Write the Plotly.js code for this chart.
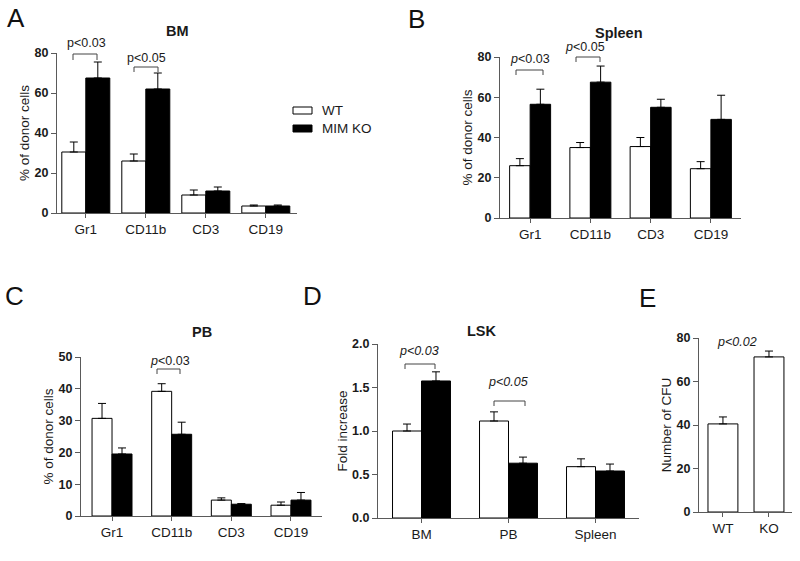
<!DOCTYPE html>
<html>
<head>
<meta charset="utf-8">
<script src="https://cdn.plot.ly/plotly-3.0.1.min.js"></script>
<style>html,body{margin:0;padding:0;background:#fff;}#chart{width:800px;height:561px;}</style>
</head>
<body>
<div id="chart"></div>
<script>
// ---- data ----
const seriesNames = ['WT', 'MIM KO'];

const bmCats = ['Gr1', 'CD11b', 'CD3', 'CD19'];
const bmWT = [30.5, 26, 9, 3.5];
const bmWTerr = [5, 3.5, 2.5, 0.5];
const bmKO = [67.5, 62, 11, 3.5];
const bmKOerr = [8, 8, 2, 0.5];

const spCats = ['Gr1', 'CD11b', 'CD3', 'CD19'];
const spWT = [26, 35, 35.5, 24.5];
const spWTerr = [3.5, 2.5, 4.5, 3.5];
const spKO = [56.5, 67.5, 55, 49];
const spKOerr = [7.5, 8, 4, 12];

const pbCats = ['Gr1', 'CD11b', 'CD3', 'CD19'];
const pbWT = [30.7, 39.2, 5.0, 3.4];
const pbWTerr = [4.7, 2.4, 0.7, 1.0];
const pbKO = [19.5, 25.7, 3.7, 5.0];
const pbKOerr = [1.9, 3.8, 0.2, 2.4];

const lskCats = ['BM', 'PB', 'Spleen'];
const lskWT = [1.0, 1.115, 0.59];
const lskWTerr = [0.08, 0.105, 0.09];
const lskKO = [1.575, 0.63, 0.54];
const lskKOerr = [0.105, 0.07, 0.08];

const cfuCats = ['WT', 'KO'];
const cfuVals = [40.5, 71.3];
const cfuErr = [3.2, 2.7];

// y tick values / labels
const ticks80 = [0, 20, 40, 60, 80];
const ticks80Text = ['0', '20', '40', '60', '80'];
const ticks50 = [0, 10, 20, 30, 40, 50];
const ticks50Text = ['0', '10', '20', '30', '40', '50'];
const ticks2 = [0, 0.5, 1, 1.5, 2];
const ticks2Text = ['0.0', '0.5', '1.0', '1.5', '2.0'];

const panelTitles = ['BM', 'Spleen', 'PB', 'LSK'];
const panelLetters = ['A', 'B', 'C', 'D', 'E'];
const yTitles = ['% of donor cells', '% of donor cells', '% of donor cells', 'Fold increase', 'Number of CFU'];

// ---- helpers ----
const W = 800, H = 561;
const FONT = 'Liberation Sans, Arial, sans-serif';
const TXT = '#1a1a1a';
const AX = '#5a5a5a';
const px = x => x / W;
const py = y => 1 - y / H;

function zeros(n) { return new Array(n).fill(0); }

function barPair(cats, wt, wtErr, ko, koErr, xa, ya, w) {
  const eb = (arr) => ({type: 'data', symmetric: false, array: arr, arrayminus: zeros(arr.length),
                        color: '#000', thickness: 1, width: 4});
  return [
    {type: 'bar', name: seriesNames[0], x: cats, y: wt, xaxis: xa, yaxis: ya,
     width: w, offset: -w, marker: {color: '#ffffff', line: {color: '#000', width: 1}},
     error_y: eb(wtErr), showlegend: false, hoverinfo: 'x+y'},
    {type: 'bar', name: seriesNames[1], x: cats, y: ko, xaxis: xa, yaxis: ya,
     width: w, offset: 0, marker: {color: '#000000', line: {color: '#000', width: 1}},
     error_y: eb(koErr), showlegend: false, hoverinfo: 'x+y'}
  ];
}

const data = [
  ...barPair(bmCats, bmWT, bmWTerr, bmKO, bmKOerr, 'x', 'y', 0.4),
  ...barPair(spCats, spWT, spWTerr, spKO, spKOerr, 'x2', 'y2', 0.34),
  ...barPair(pbCats, pbWT, pbWTerr, pbKO, pbKOerr, 'x3', 'y3', 0.335),
  ...barPair(lskCats, lskWT, lskWTerr, lskKO, lskKOerr, 'x4', 'y4', 0.333),
  {type: 'bar', x: cfuCats, y: cfuVals, xaxis: 'x5', yaxis: 'y5', width: 0.65, offset: -0.325,
   marker: {color: '#ffffff', line: {color: '#000', width: 1}},
   error_y: {type: 'data', symmetric: false, array: cfuErr, arrayminus: zeros(cfuErr.length),
             color: '#000', thickness: 1, width: 4},
   showlegend: false, hoverinfo: 'x+y'}
];

function xax(x0, x1, range) {
  return {domain: [px(x0), px(x1)], type: 'category', range: range, showline: true, linecolor: AX,
          linewidth: 1, ticks: 'outside', ticklen: 4, tickcolor: AX, showgrid: false, zeroline: false,
          tickfont: {family: FONT, size: 13.5, color: TXT}, fixedrange: true};
}
function yax(yTop, yBot, range, tv, tt, anchor, title) {
  return {domain: [py(yBot), py(yTop)], range: range, tickmode: 'array', tickvals: tv,
          ticktext: tt.map(s => '<b>' + s + '</b>'),
          showline: true, linecolor: AX, linewidth: 1, ticks: 'outside', ticklen: 5, tickcolor: AX,
          showgrid: false, zeroline: false, anchor: anchor,
          tickfont: {family: FONT, size: 12.5, color: TXT},
          title: {text: title, font: {family: FONT, size: 13.5, color: TXT}, standoff: 1},
          fixedrange: true};
}

const layout = {
  width: W, height: H,
  margin: {l: 0, r: 0, t: 0, b: 0},
  paper_bgcolor: '#fff', plot_bgcolor: '#fff',
  showlegend: false,
  barmode: 'overlay',
  xaxis: Object.assign(xax(57, 297, [-0.48, 3.52]), {anchor: 'y'}),
  yaxis: yax(53, 213, [0, 80], ticks80, ticks80Text, 'x', yTitles[0]),
  xaxis2: Object.assign(xax(500, 741, [-0.5, 3.5]), {anchor: 'y2'}),
  yaxis2: yax(57, 218, [0, 80], ticks80, ticks80Text, 'x2', yTitles[1]),
  xaxis3: Object.assign(xax(81, 322, [-0.52, 3.52]), {anchor: 'y3'}),
  yaxis3: yax(357, 516, [0, 50], ticks50, ticks50Text, 'x3', yTitles[2]),
  xaxis4: Object.assign(xax(378, 639, [-0.5, 2.5]), {anchor: 'y4'}),
  yaxis4: yax(344, 518, [0, 2], ticks2, ticks2Text, 'x4', yTitles[3]),
  xaxis5: Object.assign(xax(699, 792, [-0.52, 1.5]), {anchor: 'y5'}),
  yaxis5: yax(338, 512, [0, 80], ticks80, ticks80Text, 'x5', yTitles[4]),
  shapes: [],
  annotations: []
};

// panel titles
const titlePos = [[177, 31], [619, 33], [202, 332], [482, 331]];
panelTitles.forEach((t, i) => layout.annotations.push({
  text: '<b>' + t + '</b>', x: px(titlePos[i][0]), y: py(titlePos[i][1]), xref: 'paper', yref: 'paper',
  xanchor: 'center', yanchor: 'middle', showarrow: false, font: {family: FONT, size: 14.5, color: TXT}
}));

// panel letters
const letterPos = [[16, 18], [416, 19], [14, 296], [312, 296], [647, 298]];
panelLetters.forEach((t, i) => layout.annotations.push({
  text: t, x: px(letterPos[i][0]), y: py(letterPos[i][1]), xref: 'paper', yref: 'paper',
  xanchor: 'center', yanchor: 'middle', showarrow: false, font: {family: FONT, size: 26, color: '#111'}
}));

// significance brackets [x0, x1, top, bottom, textX, textY, text]
const brackets = [
  [73, 97, 54, 60, 86, 43, 'p&lt;0.03'],
  [134, 158, 67, 72, 146, 58, 'p&lt;0.05'],
  [516, 543, 70, 75, 530, 59, '<i>p</i>&lt;0.03'],
  [576, 600, 57, 62, 585, 47, '<i>p</i>&lt;0.05'],
  [157, 180, 369, 374, 170, 361, '<i>p</i>&lt;0.03'],
  [405, 435, 364, 369, 419, 351, '<i>p&lt;0.03</i>'],
  [494, 525, 401, 406, 508, 382, '<i>p&lt;0.05</i>']
];
brackets.forEach(b => {
  layout.shapes.push({type: 'path', xref: 'paper', yref: 'paper',
    path: `M${px(b[0])},${py(b[3])} L${px(b[0])},${py(b[2])} L${px(b[1])},${py(b[2])} L${px(b[1])},${py(b[3])}`,
    line: {color: '#444', width: 1}});
  layout.annotations.push({text: b[6], x: px(b[4]), y: py(b[5]), xref: 'paper', yref: 'paper',
    xanchor: 'center', yanchor: 'middle', showarrow: false, font: {family: FONT, size: 12.5, color: TXT}});
});
layout.annotations.push({text: '<i>p&lt;0.02</i>', x: px(737), y: py(342), xref: 'paper', yref: 'paper',
  xanchor: 'center', yanchor: 'middle', showarrow: false, font: {family: FONT, size: 12.5, color: TXT}});

// legend (drawn)
const legendItems = [[107, '#ffffff', seriesNames[0]], [125, '#000000', seriesNames[1]]];
legendItems.forEach(l => {
  layout.shapes.push({type: 'rect', xref: 'paper', yref: 'paper', x0: px(293), x1: px(312),
    y0: py(l[0] + 7), y1: py(l[0]), fillcolor: l[1], line: {color: '#000', width: 1}});
  layout.annotations.push({text: l[2], x: px(320), y: py(l[0] + 3.5), xref: 'paper', yref: 'paper',
    xanchor: 'left', yanchor: 'middle', showarrow: false, font: {family: FONT, size: 13.5, color: TXT}});
});

Plotly.newPlot('chart', data, layout, {displayModeBar: false, staticPlot: true});
</script>
</body>
</html>
